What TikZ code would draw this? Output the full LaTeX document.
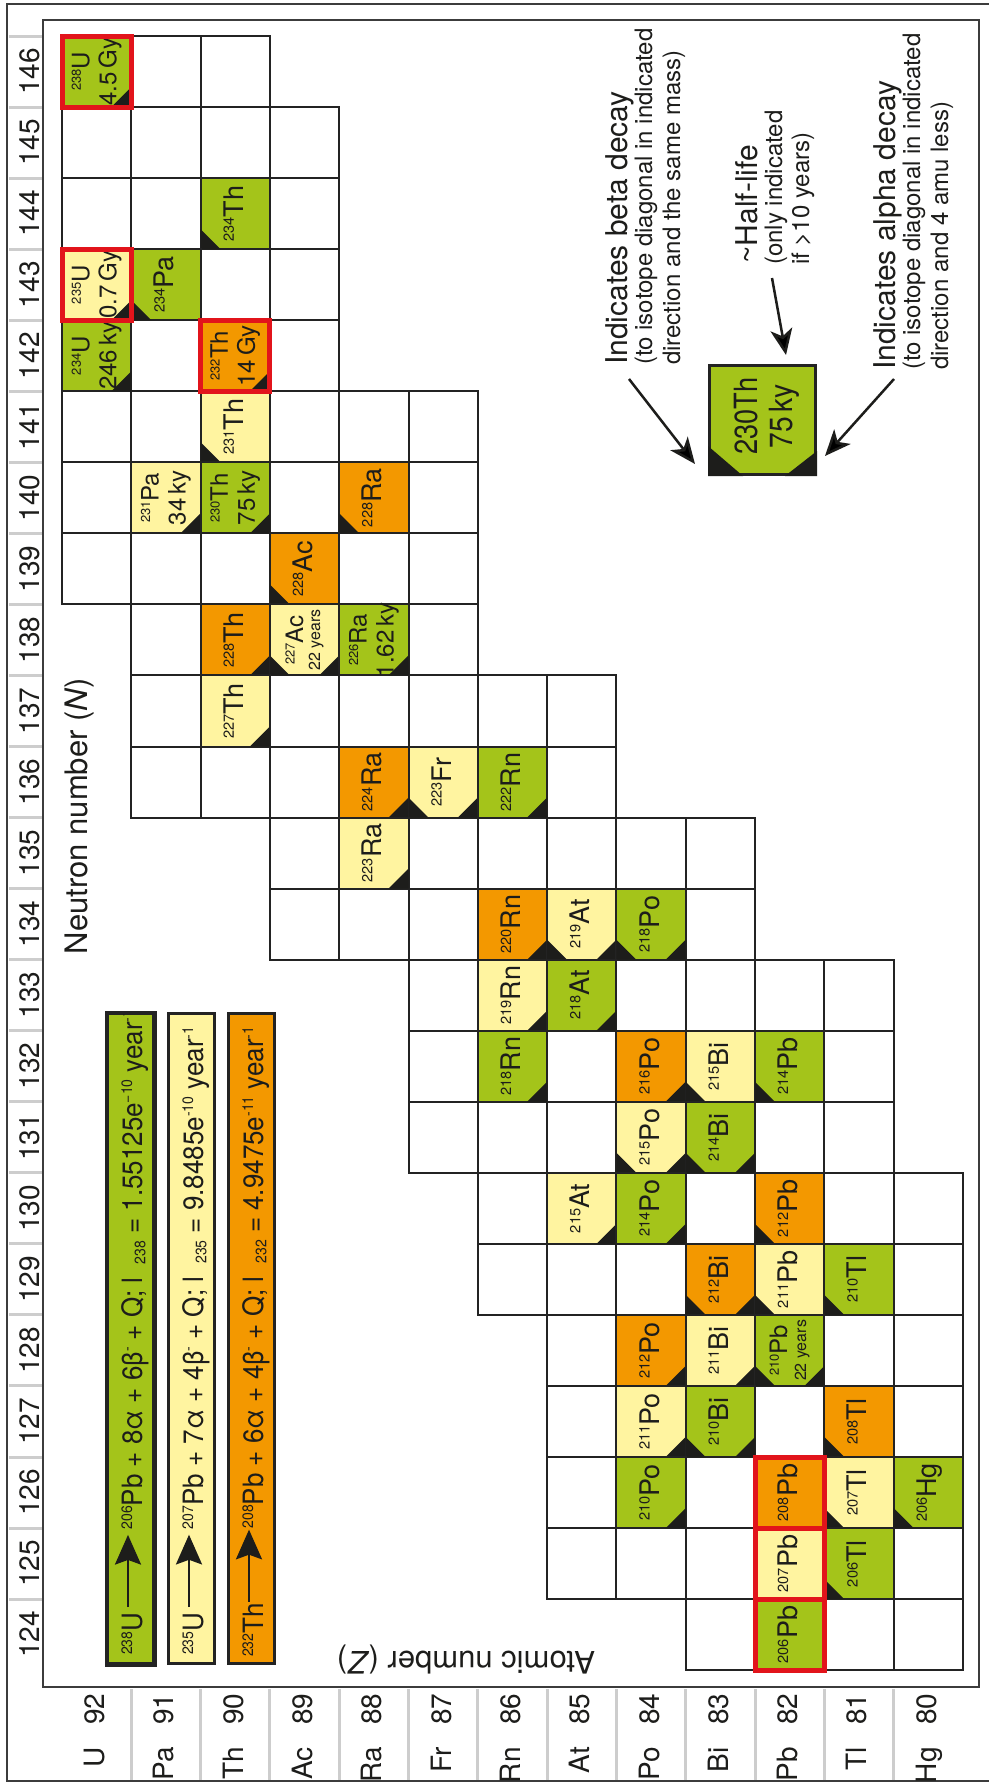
\documentclass[tikz,border=0pt]{standalone}
\usepackage{fontspec}
\setmainfont{TeX Gyre Heros}
\usetikzlibrary{arrows.meta}
\definecolor{grn}{RGB}{164,196,26}
\definecolor{yel}{RGB}{255,244,160}
\definecolor{org}{RGB}{243,152,0}
\definecolor{ink}{RGB}{29,29,27}
\definecolor{gridc}{RGB}{35,35,35}
\definecolor{redb}{RGB}{226,20,27}
\definecolor{sepc}{RGB}{205,205,205}
\definecolor{framec}{RGB}{60,60,60}

\newcommand\supr[1]{\raisebox{0.35em}{\scalebox{0.54}{#1}}}
\newcommand\lowr[1]{\raisebox{-0.12em}{\scalebox{0.54}{#1}}}
\newcommand\isotope[2]{\supr{#1}#2}
\newcommand\eqarrow{\tikz[baseline=-0.5em]\draw[line width=2.5pt,-{Stealth[length=32pt,width=26pt,inset=5pt]}] (0pt,0pt) -- (78pt,0pt);}

\tikzset{
  isoone/.style={rotate=90, font=\fontsize{27}{30}\selectfont, text=ink, inner sep=0pt, text height=18pt, text depth=2pt},
  isotwo/.style={rotate=90, align=center, font=\fontsize{24}{27}\selectfont, text=ink, inner sep=0pt},
  tri/.style={fill=ink},
  cellw/.style={draw=gridc, line width=2pt, fill=white},
  redbox/.style={draw=redb, line width=5pt},
  sepline/.style={draw=sepc, line width=3pt},
  frame/.style={draw=framec, line width=2pt},
  axlab/.style={rotate=90, font=\fontsize{28}{30}\selectfont, text=ink, inner sep=0pt},
  lgbig/.style={rotate=90, font=\fontsize{30}{32}\selectfont, text=ink, inner sep=0pt},
  lgsmall/.style={rotate=90, font=\fontsize{24}{26}\selectfont, text=ink, inner sep=0pt},
  legarrow/.style={draw=ink, line width=2.5pt, -{Stealth[length=26pt,width=22pt,inset=7pt]}},
  eqbox/.style={draw=gridc, line width=3pt, minimum width=46pt, minimum height=650pt, inner sep=0pt},
  eqtext/.style={rotate=90, font=\fontsize{28}{30}\selectfont, text=ink, inner sep=0pt},
}

\newcommand\nuc[7]{%
  \pgfmathsetmacro\nucxl{62+(92-#1)*69.3}%
  \pgfmathsetmacro\nucyt{36+(146-#2)*71.05}%
  \pgfmathsetmacro\nucxr{\nucxl+69.3}%
  \pgfmathsetmacro\nucyb{\nucyt+71.05}%
  \pgfmathsetmacro\nucxc{\nucxl+34.65}%
  \pgfmathsetmacro\nucyc{\nucyt+35.525}%
  \filldraw[fill=#3, draw=gridc, line width=2pt] (\nucxl,\nucyt) rectangle (\nucxr,\nucyb);
  \ifnum#6=1\relax \fill[tri] (\nucxl,\nucyb) -- ++(0,-20) -- ++(20,20) -- cycle; \fi
  \ifnum#7=1\relax \fill[tri] (\nucxr,\nucyb) -- ++(0,-20) -- ++(-20,20) -- cycle; \fi
  \node[#4] (c#1n#2) at (\nucxc,\nucyc) {#5};
}

\begin{document}
\begin{tikzpicture}[x=1pt,y=-1pt]
\useasboundingbox (0,0) rectangle (988,1783);
\fill[white] (0,0) rectangle (988,1783);

% frames
\draw[frame] (7,4) rectangle (1000,1781);
\draw[frame] (43,20) rectangle (979,1687);

% strip separators
\foreach \i in {0,...,22} \draw[sepline] (9,{36+\i*71.05}) -- (42,{36+\i*71.05});
\foreach \i in {1,...,12} \draw[sepline] ({62+\i*69.3},1689) -- ({62+\i*69.3},1780);

% neutron labels
\foreach \n in {124,...,146} {
  \pgfmathsetmacro\yy{36+(146-\n)*71.05+35.5}
  \node[axlab, anchor=base] (nl\n) at (39,\yy) {\n};
}
% element labels
\foreach \z/\s in {92/U,91/Pa,90/Th,89/Ac,88/Ra,87/Fr,86/Rn,85/At,84/Po,83/Bi,82/Pb,81/Tl,80/Hg} {
  \pgfmathsetmacro\xx{62+(92-\z)*69.3+34.65+8}
  \node[axlab, anchor=base east] (zs\z) at (\xx,1747) {\s};
  \node[axlab, anchor=base west] (zn\z) at (\xx,1725) {\z};
}

% grid of white cells
\foreach \n/\zh/\zl in {146/92/90,145/92/89,144/92/89,143/92/89,142/92/89,141/92/87,140/92/87,139/92/87,138/91/87,137/91/85,136/91/85,135/89/83,134/89/83,133/87/81,132/87/81,131/87/81,130/86/80,129/86/80,128/85/80,127/85/80,126/85/80,125/85/80,124/83/80}
  \foreach \z in {\zl,...,\zh}
    \draw[cellw] ({62+(92-\z)*69.3},{36+(146-\n)*71.05}) rectangle ++(69.3,71.05);

% nuclides
\nuc{92}{146}{grn}{isotwo}{\isotope{238}{U}\\4.5\,Gy}{0}{1}
\nuc{90}{144}{grn}{isoone}{\isotope{234}{Th}}{1}{0}
\nuc{92}{143}{yel}{isotwo}{\isotope{235}{U}\\0.7\,Gy}{0}{1}
\nuc{91}{143}{grn}{isoone}{\isotope{234}{Pa}}{1}{0}
\nuc{92}{142}{grn}{isotwo}{\isotope{234}{U}\\246\,ky}{0}{1}
\nuc{90}{142}{org}{isotwo}{\isotope{232}{Th}\\14\,Gy}{0}{1}
\nuc{90}{141}{yel}{isoone}{\isotope{231}{Th}}{1}{0}
\nuc{91}{140}{yel}{isotwo}{\isotope{231}{Pa}\\34\,ky}{0}{1}
\nuc{90}{140}{grn}{isotwo}{\isotope{230}{Th}\\75\,ky}{0}{1}
\nuc{88}{140}{org}{isoone}{\isotope{228}{Ra}}{1}{0}
\nuc{89}{139}{org}{isoone}{\isotope{228}{Ac}}{1}{0}
\nuc{90}{138}{org}{isoone}{\isotope{228}{Th}}{0}{1}
\nuc{89}{138}{yel}{isotwo}{\isotope{227}{Ac}\\[-10pt]{\fontsize{16}{16}\selectfont 22 years}}{1}{1}
\nuc{88}{138}{grn}{isotwo}{\isotope{226}{Ra}\\1.62\,ky}{0}{1}
\nuc{90}{137}{yel}{isoone}{\isotope{227}{Th}}{0}{1}
\nuc{88}{136}{org}{isoone}{\isotope{224}{Ra}}{0}{1}
\nuc{87}{136}{yel}{isoone}{\isotope{223}{Fr}}{1}{1}
\nuc{86}{136}{grn}{isoone}{\isotope{222}{Rn}}{0}{1}
\nuc{88}{135}{yel}{isoone}{\isotope{223}{Ra}}{0}{1}
\nuc{86}{134}{org}{isoone}{\isotope{220}{Rn}}{0}{1}
\nuc{85}{134}{yel}{isoone}{\isotope{219}{At}}{1}{1}
\nuc{84}{134}{grn}{isoone}{\isotope{218}{Po}}{1}{1}
\nuc{86}{133}{yel}{isoone}{\isotope{219}{Rn}}{0}{1}
\nuc{85}{133}{grn}{isoone}{\isotope{218}{At}}{0}{1}
\nuc{86}{132}{grn}{isoone}{\isotope{218}{Rn}}{0}{1}
\nuc{84}{132}{org}{isoone}{\isotope{216}{Po}}{0}{1}
\nuc{83}{132}{yel}{isoone}{\isotope{215}{Bi}}{1}{0}
\nuc{82}{132}{grn}{isoone}{\isotope{214}{Pb}}{1}{0}
\nuc{84}{131}{yel}{isoone}{\isotope{215}{Po}}{1}{1}
\nuc{83}{131}{grn}{isoone}{\isotope{214}{Bi}}{1}{1}
\nuc{85}{130}{yel}{isoone}{\isotope{215}{At}}{0}{1}
\nuc{84}{130}{grn}{isoone}{\isotope{214}{Po}}{0}{1}
\nuc{82}{130}{org}{isoone}{\isotope{212}{Pb}}{1}{0}
\nuc{83}{129}{org}{isoone}{\isotope{212}{Bi}}{1}{1}
\nuc{82}{129}{yel}{isoone}{\isotope{211}{Pb}}{1}{0}
\nuc{81}{129}{grn}{isoone}{\isotope{210}{Tl}}{1}{0}
\nuc{84}{128}{org}{isoone}{\isotope{212}{Po}}{0}{1}
\nuc{83}{128}{yel}{isoone}{\isotope{211}{Bi}}{0}{1}
\nuc{82}{128}{grn}{isotwo}{\isotope{210}{Pb}\\[-8pt]{\fontsize{16}{16}\selectfont 22 years}}{1}{1}
\nuc{84}{127}{yel}{isoone}{\isotope{211}{Po}}{0}{1}
\nuc{83}{127}{grn}{isoone}{\isotope{210}{Bi}}{1}{1}
\nuc{81}{127}{org}{isoone}{\isotope{208}{Tl}}{1}{0}
\nuc{84}{126}{grn}{isoone}{\isotope{210}{Po}}{0}{1}
\nuc{82}{126}{org}{isoone}{\isotope{208}{Pb}}{0}{0}
\nuc{81}{126}{yel}{isoone}{\isotope{207}{Tl}}{1}{0}
\nuc{80}{126}{grn}{isoone}{\isotope{206}{Hg}}{1}{0}
\nuc{82}{125}{yel}{isoone}{\isotope{207}{Pb}}{0}{0}
\nuc{81}{125}{grn}{isoone}{\isotope{206}{Tl}}{1}{0}
\nuc{82}{124}{grn}{isoone}{\isotope{206}{Pb}}{0}{0}

% red boxes
\foreach \z/\n in {92/146,92/143,90/142,82/126,82/125,82/124}
  \draw[redbox] ({62+(92-\z)*69.3},{36+(146-\n)*71.05}) rectangle ++(69.3,71.05);

% axis titles
\node[rotate=90, font=\fontsize{31}{33}\selectfont, text=ink, inner sep=0pt, anchor=base] (ntitle) at (87,816) {Neutron number (\textit{N})};
\node[rotate=180, font=\fontsize{31}{33}\selectfont, text=ink, inner sep=0pt] (ztitle) at (466,1659) {Atomic number (\textit{Z})};

% equation boxes
\node[eqbox, fill=grn] (eqG) at (130.5,1338.5) {};
\node[eqbox, fill=yel] (eqY) at (191.5,1338.5) {};
\node[eqbox, fill=org] (eqO) at (251.5,1338.5) {};
\begin{scope}
  \clip (108,1014) rectangle (153,1663);
  \node[eqtext, anchor=base west] (eqGt) at (142,1655) {\resizebox{645pt}{\height}{\isotope{238}{U}\,\eqarrow\,\isotope{206}{Pb} + 8α + 6β\supr{-} + Q; l\enspace\lowr{238} = 1.55125e\supr{−10} year\supr{-1}}};
\end{scope}
\node[eqtext, anchor=base west] (eqYt) at (203,1655) {\resizebox{628pt}{\height}{\isotope{235}{U}\,\eqarrow\,\isotope{207}{Pb} + 7α + 4β\supr{-} + Q; l\enspace\lowr{235} = 9.8485e\supr{-10} year\supr{-1}}};
\node[eqtext, anchor=base west] (eqOt) at (263,1657) {\resizebox{630pt}{\height}{\isotope{232}{Th}\eqarrow\isotope{208}{Pb} + 6α + 4β\supr{-} + Q; l\enspace\lowr{232} = 4.9475e\supr{-11} year\supr{-1}}};
\draw[draw=gridc, line width=3pt] (eqG.south west) rectangle (eqG.north east);

% legend
\node[draw=gridc, line width=3pt, fill=grn, minimum width=106pt, minimum height=109pt, inner sep=0pt] (legbox) at (762.5,420) {};
\fill[tri] (legbox.south west) -- ++(0,-30) -- ++(35,30) -- cycle;
\fill[tri] (legbox.south east) -- ++(0,-25) -- ++(-32,25) -- cycle;
\node[rotate=90, align=center, font=\fontsize{32}{35}\selectfont, text=ink, inner sep=0pt] (legtxt) at (767,416) {\scalebox{0.85}[1]{230Th}\\\scalebox{0.88}[1]{75\,ky}};

\node[lgbig, anchor=base west] (betaA) at (627,365) {Indicates beta decay};
\node[lgsmall, anchor=base west] (betaB) at (652,365) {(to isotope diagonal in indicated};
\node[lgsmall, anchor=base west] (betaC) at (680,365) {direction and the same mass)};

\node[lgbig, anchor=base west] (halfA) at (757,264) {\textasciitilde Half-life};
\node[lgsmall, anchor=base west] (halfB) at (782,265) {(only indicated};
\node[lgsmall, anchor=base west] (halfC) at (809,265) {if >10 years)};

\node[lgbig, anchor=base west] (alphaA) at (895,370) {Indicates alpha decay};
\node[lgsmall, anchor=base west] (alphaB) at (920,370) {(to isotope diagonal in indicated};
\node[lgsmall, anchor=base west] (alphaC) at (948,370) {direction and 4 amu less)};

\coordinate (betaT) at (629,379);
\coordinate (betaH) at (695,464);
\coordinate (halfT) at (772,278);
\coordinate (halfH) at (786,355);
\coordinate (alphaT) at (894,379);
\coordinate (alphaH) at (825,456);
\draw[legarrow] (betaT) -- (betaH);
\draw[legarrow] (halfT) -- (halfH);
\draw[legarrow] (alphaT) -- (alphaH);
\end{tikzpicture}
\end{document}
